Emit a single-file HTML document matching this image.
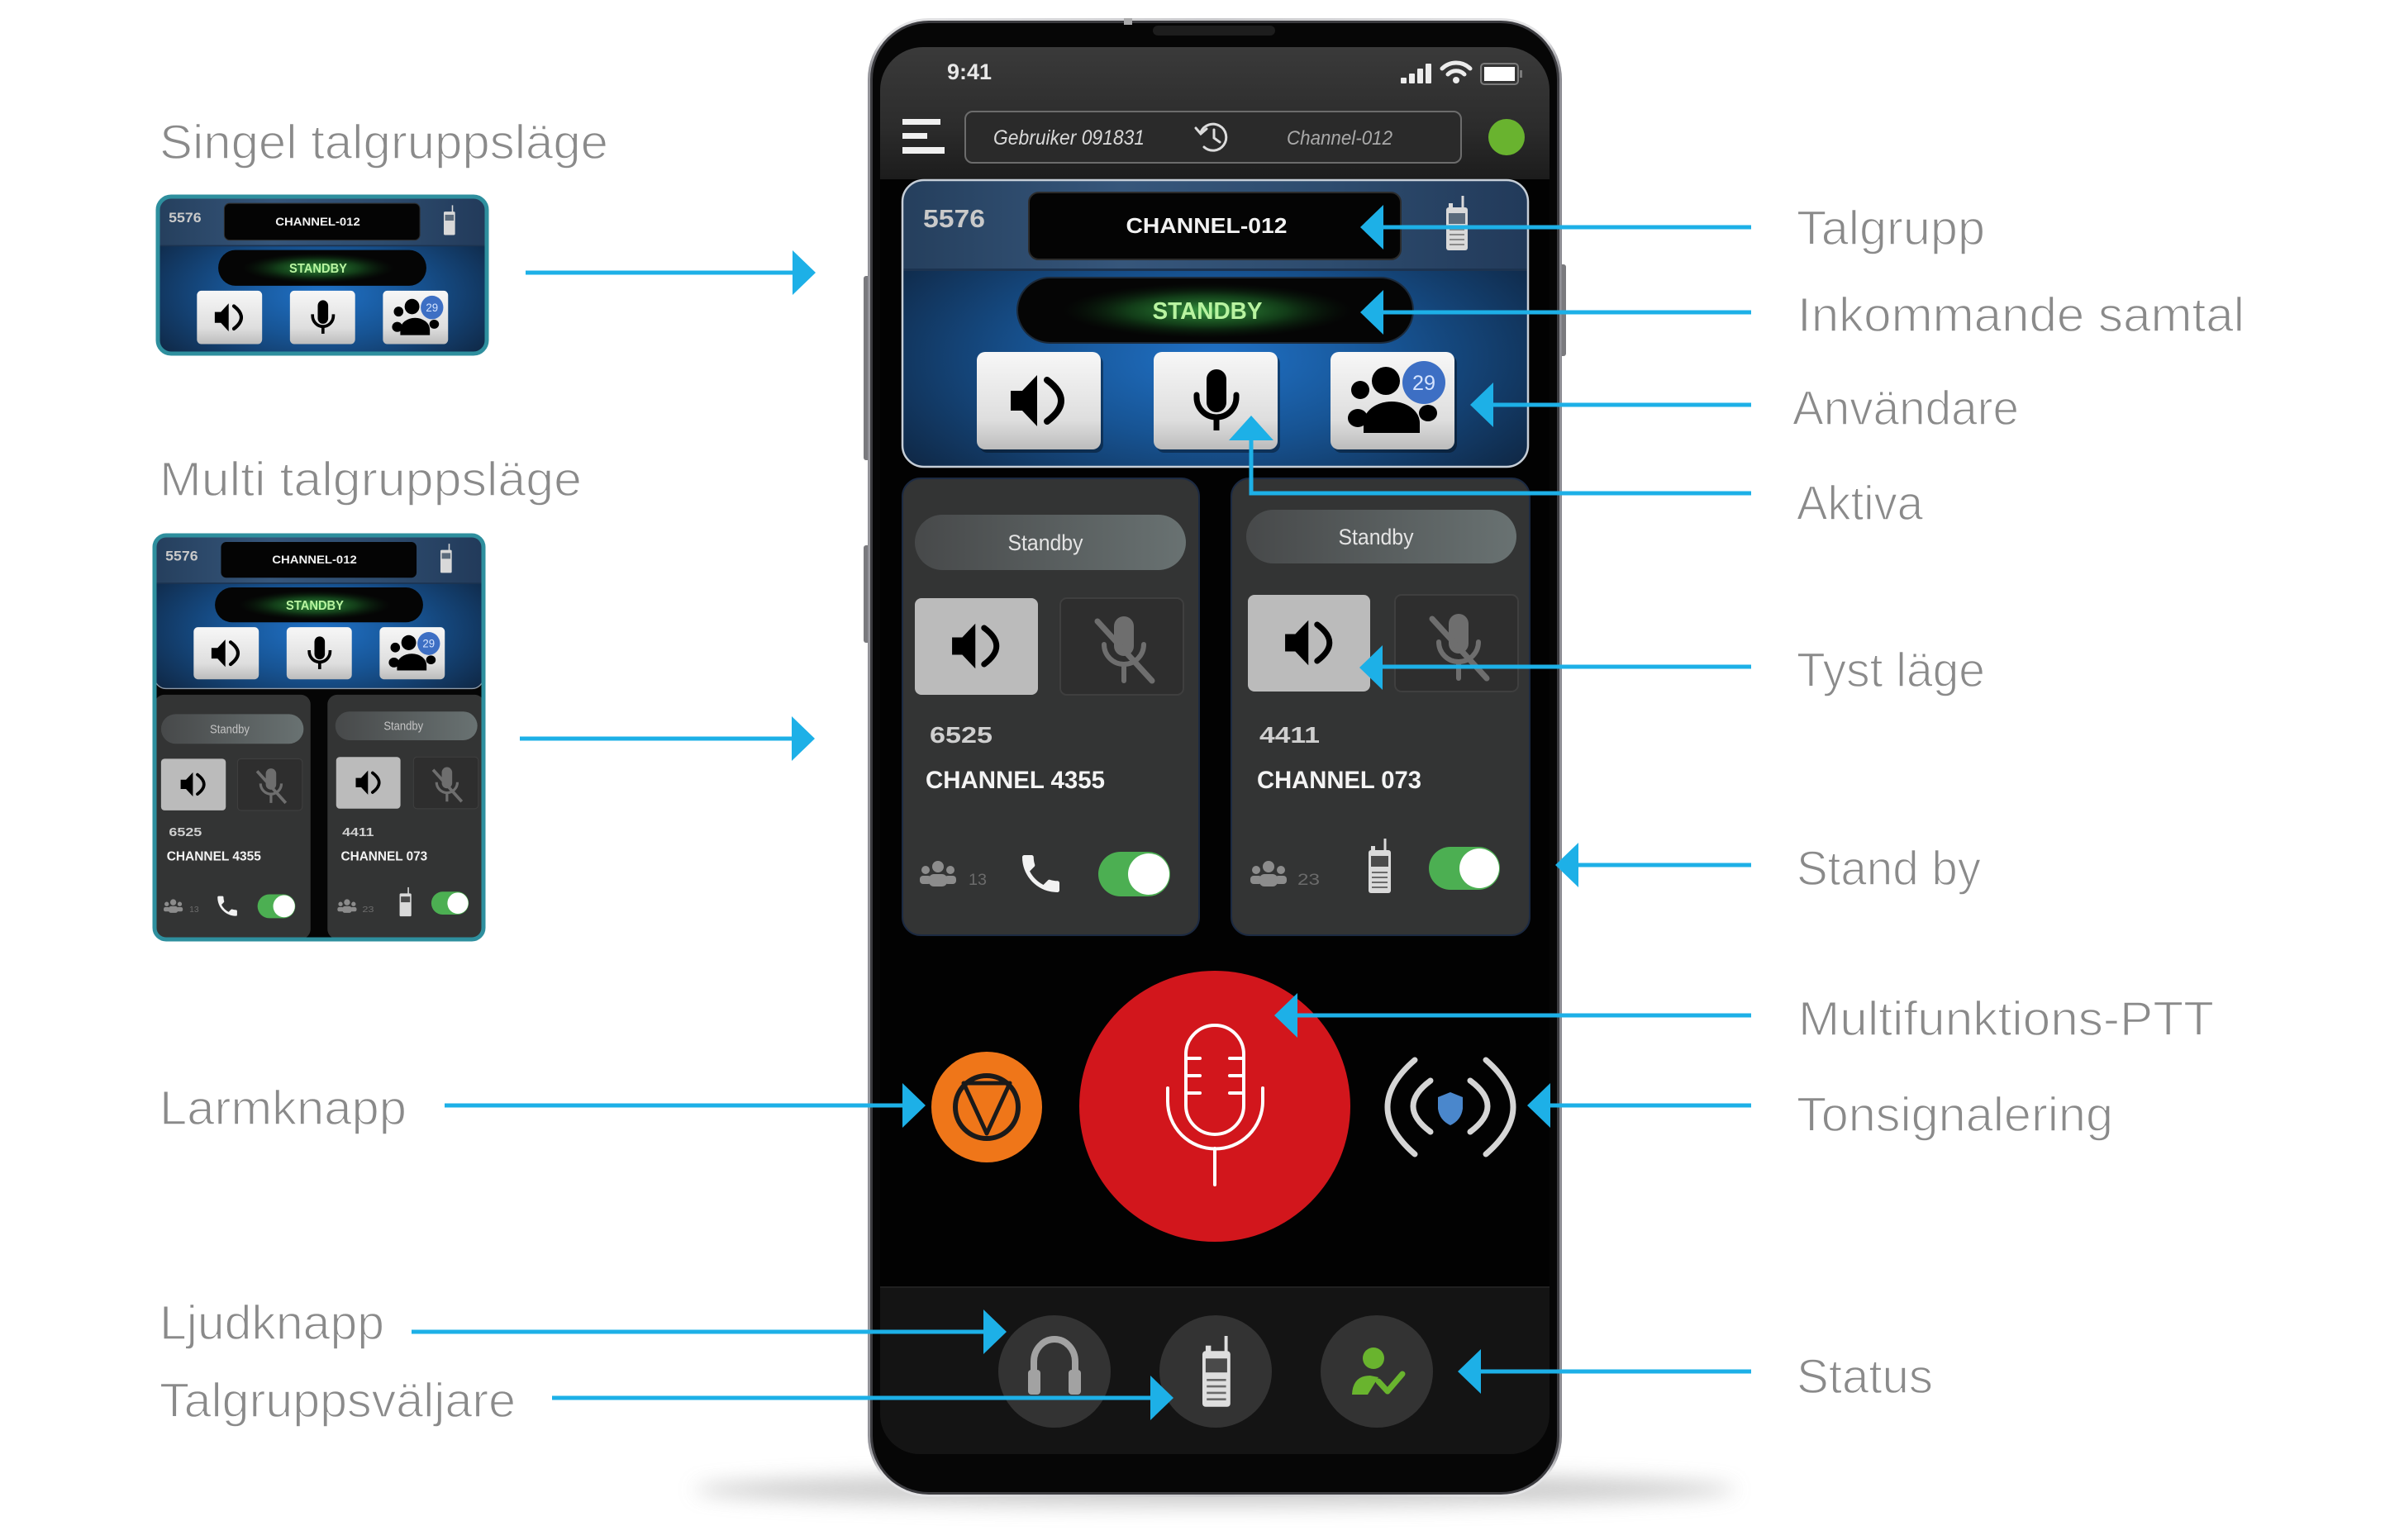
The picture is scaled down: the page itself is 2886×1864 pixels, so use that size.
<!DOCTYPE html>
<html><head><meta charset="utf-8">
<style>
html,body{margin:0;padding:0;background:#fff;}
svg{display:block;}
text{font-family:"Liberation Sans",Arial,sans-serif;}
</style></head><body>
<svg width="2886" height="1864" viewBox="0 0 2886 1864" xmlns="http://www.w3.org/2000/svg">
<defs>
 <linearGradient id="silver" x1="0" y1="0" x2="1" y2="0">
  <stop offset="0" stop-color="#8e8e94"/><stop offset="0.02" stop-color="#e4e4e6"/><stop offset="0.5" stop-color="#c9c9cc"/><stop offset="0.98" stop-color="#e4e4e6"/><stop offset="1" stop-color="#85858b"/>
 </linearGradient>
 <linearGradient id="hdr" x1="0" y1="0" x2="0" y2="1">
  <stop offset="0" stop-color="#3a3a3a"/><stop offset="0.6" stop-color="#2c2c2c"/><stop offset="1" stop-color="#1c1c1c"/>
 </linearGradient>
 <radialGradient id="panelBlue" cx="0.5" cy="0.62" r="0.62">
  <stop offset="0" stop-color="#2071c6"/><stop offset="0.45" stop-color="#175494"/><stop offset="1" stop-color="#0f2744"/>
 </radialGradient>
 <linearGradient id="band" x1="0" y1="0" x2="1" y2="0">
  <stop offset="0" stop-color="#253f5d"/><stop offset="0.35" stop-color="#36567b"/><stop offset="0.7" stop-color="#2d4b6d"/><stop offset="1" stop-color="#223a5a"/>
 </linearGradient>
 <linearGradient id="btn" x1="0" y1="0" x2="0" y2="1">
  <stop offset="0" stop-color="#f7f7f7"/><stop offset="0.7" stop-color="#dedede"/><stop offset="1" stop-color="#bcbcbc"/>
 </linearGradient>
 <radialGradient id="glow" cx="0.5" cy="0.5" r="0.5">
  <stop offset="0" stop-color="#3aa345" stop-opacity="0.95"/><stop offset="0.55" stop-color="#1d6a28" stop-opacity="0.55"/><stop offset="1" stop-color="#0b2a10" stop-opacity="0"/>
 </radialGradient>
 <linearGradient id="pill" x1="0" y1="0" x2="1" y2="0">
  <stop offset="0" stop-color="#47494a"/><stop offset="1" stop-color="#697272"/>
 </linearGradient>
 <filter id="blur" x="-20%" y="-200%" width="140%" height="500%"><feGaussianBlur stdDeviation="12"/></filter>
 <clipPath id="panelClip"><rect x="1092" y="218" width="757" height="347" rx="26"/></clipPath>
</defs>

<rect width="2886" height="1864" fill="#fff"/>

<!-- ================= LEFT LABELS ================= -->
<g font-size="58" fill="#8a8a8a" stroke="#fff" stroke-width="1.4">
 <text x="193" y="192" textLength="543" lengthAdjust="spacingAndGlyphs">Singel talgruppsläge</text>
 <text x="193" y="600" textLength="511" lengthAdjust="spacingAndGlyphs">Multi talgruppsläge</text>
 <text x="193" y="1361" textLength="299" lengthAdjust="spacingAndGlyphs">Larmknapp</text>
 <text x="193" y="1621" textLength="272" lengthAdjust="spacingAndGlyphs">Ljudknapp</text>
 <text x="193" y="1715" textLength="431" lengthAdjust="spacingAndGlyphs">Talgruppsväljare</text>
</g>
<!-- ================= RIGHT LABELS ================= -->
<g font-size="58" fill="#8a8a8a" stroke="#fff" stroke-width="1.4">
 <text x="2174" y="296" textLength="228" lengthAdjust="spacingAndGlyphs">Talgrupp</text>
 <text x="2175" y="401" textLength="541" lengthAdjust="spacingAndGlyphs">Inkommande samtal</text>
 <text x="2169" y="514" textLength="274" lengthAdjust="spacingAndGlyphs">Användare</text>
 <text x="2174" y="629" textLength="153" lengthAdjust="spacingAndGlyphs">Aktiva</text>
 <text x="2174" y="831" textLength="228" lengthAdjust="spacingAndGlyphs">Tyst läge</text>
 <text x="2174" y="1071" textLength="223" lengthAdjust="spacingAndGlyphs">Stand by</text>
 <text x="2176" y="1253" textLength="503" lengthAdjust="spacingAndGlyphs">Multifunktions-PTT</text>
 <text x="2174" y="1369" textLength="383" lengthAdjust="spacingAndGlyphs">Tonsignalering</text>
 <text x="2174" y="1686" textLength="165" lengthAdjust="spacingAndGlyphs">Status</text>
</g>

<!-- ================= PHONE ================= -->
<ellipse cx="1470" cy="1803" rx="630" ry="20" fill="#b8b8b8" opacity="0.7" filter="url(#blur)"/>
<rect x="1045" y="334" width="8" height="223" rx="3" fill="#7a7a7e"/>
<rect x="1045" y="660" width="8" height="118" rx="3" fill="#7a7a7e"/>
<rect x="1887" y="320" width="8" height="111" rx="3" fill="#7a7a7e"/>
<rect x="1050" y="22" width="840" height="1790" rx="74" fill="url(#silver)"/>
<rect x="1053" y="25" width="834" height="1784" rx="71" fill="#3c3c40"/>
<rect x="1056" y="28" width="828" height="1778" rx="68" fill="#060606"/>
<rect x="1395" y="31" width="148" height="12" rx="6" fill="#1d1d1d"/>
<rect x="1360" y="22" width="10" height="8" fill="#a9a9ab"/>
<rect x="1065" y="57" width="810" height="1703" rx="52" fill="#020202"/>
<path d="M1065,217 V109 a52,52 0 0 1 52,-52 H1823 a52,52 0 0 1 52,52 V217 Z" fill="url(#hdr)"/>
<text x="1146" y="96" font-size="27" font-weight="bold" fill="#e8e8e8" textLength="54" lengthAdjust="spacingAndGlyphs">9:41</text>
<g fill="#ececec">
 <rect x="1695" y="94" width="7" height="7" rx="1"/>
 <rect x="1705" y="89" width="7" height="12" rx="1"/>
 <rect x="1715" y="83" width="7" height="18" rx="1"/>
 <rect x="1725" y="77" width="7" height="24" rx="1"/>
 <circle cx="1762" cy="97" r="4"/>
</g>
<g fill="none" stroke="#ececec" stroke-width="5" stroke-linecap="round">
 <path d="M1745,83 A24,24 0 0 1 1779,83"/>
 <path d="M1752,90 A14,14 0 0 1 1772,90"/>
</g>
<rect x="1792" y="77" width="45" height="25" rx="4" fill="none" stroke="#7a7a7a" stroke-width="2"/>
<rect x="1796" y="81" width="37" height="17" fill="#fff"/>
<rect x="1839" y="85" width="3" height="9" fill="#7a7a7a"/>
<rect x="1092" y="144" width="46" height="7" fill="#f0f0f0"/>
<rect x="1092" y="161" width="30" height="7" fill="#f0f0f0"/>
<rect x="1092" y="178" width="51" height="8" fill="#f0f0f0"/>
<rect x="1168" y="135" width="600" height="62" rx="9" fill="#2a2a2a" stroke="#6c6c6c" stroke-width="2"/>
<text x="1202" y="175" font-size="25" font-style="italic" fill="#d8d8d8" textLength="183" lengthAdjust="spacingAndGlyphs">Gebruiker 091831</text>
<g fill="none" stroke="#dcdcdc" stroke-width="3" stroke-linecap="round">
 <path d="M1453,160 A16,16 0 1 1 1457,178"/>
 <path d="M1447,155 L1453,162 L1460,156"/>
 <path d="M1469,157 V167 L1476,172"/>
</g>
<text x="1557" y="175" font-size="24" font-style="italic" fill="#a9a9a9" textLength="128" lengthAdjust="spacingAndGlyphs">Channel-012</text>
<circle cx="1823" cy="166" r="22" fill="#69b32f"/>

<!-- ===== PANEL (phone) ===== -->
<g>
 <g clip-path="url(#panelClip)">
  <rect x="1092" y="218" width="757" height="347" fill="url(#panelBlue)"/>
  <rect x="1092" y="218" width="757" height="108" fill="url(#band)"/>
  <rect x="1092" y="325" width="757" height="3" fill="#1c3350"/>
 </g>
 <rect x="1092" y="218" width="757" height="347" rx="26" fill="none" stroke="#c6ced7" stroke-width="2.5"/>
 <text x="1117" y="275" font-size="31" font-weight="bold" fill="#c9c9c9" textLength="75" lengthAdjust="spacingAndGlyphs">5576</text>
 <rect x="1245" y="233" width="450" height="81" rx="12" fill="#040404" stroke="#2c2c2c" stroke-width="2"/>
 <text x="1460" y="282" font-size="26" font-weight="bold" fill="#f2f2f2" text-anchor="middle" textLength="195" lengthAdjust="spacingAndGlyphs">CHANNEL-012</text>
 <g transform="translate(1750,237)">
  <line x1="20" y1="0" x2="20" y2="16" stroke="#d9d9d9" stroke-width="3"/>
  <rect x="3" y="9" width="5" height="6" fill="#d9d9d9"/>
  <rect x="0" y="14" width="26" height="52" rx="3" fill="#d9d9d9"/>
  <rect x="3" y="21" width="20" height="13" fill="#5b6b7c"/>
  <g stroke="#8a8a8a" stroke-width="2"><line x1="4" y1="41" x2="22" y2="41"/><line x1="4" y1="47" x2="22" y2="47"/><line x1="4" y1="53" x2="22" y2="53"/><line x1="4" y1="59" x2="22" y2="59"/></g>
 </g>
 <rect x="1231" y="336" width="479" height="79" rx="39.5" fill="#050505" stroke="#1c2a3a" stroke-width="2"/>
 <ellipse cx="1461" cy="376" rx="175" ry="33" fill="url(#glow)"/>
 <text x="1461" y="386" font-size="29" font-weight="bold" fill="#b8f3a0" text-anchor="middle" textLength="133" lengthAdjust="spacingAndGlyphs">STANDBY</text>
 <rect x="1185" y="430" width="150" height="118" rx="10" fill="#000" opacity="0.35"/>
 <rect x="1399" y="430" width="150" height="118" rx="10" fill="#000" opacity="0.35"/>
 <rect x="1613" y="430" width="150" height="118" rx="10" fill="#000" opacity="0.35"/>
 <rect x="1182" y="426" width="150" height="118" rx="10" fill="url(#btn)"/>
 <rect x="1396" y="426" width="150" height="118" rx="10" fill="url(#btn)"/>
 <rect x="1610" y="426" width="150" height="118" rx="10" fill="url(#btn)"/>
 <g transform="translate(1257,485)">
  <polygon points="-34,-12 -20,-12 -2,-31 -2,31 -20,12 -34,12" fill="#000"/>
  <path d="M10,-25 Q44,0 10,25" fill="none" stroke="#000" stroke-width="8" stroke-linecap="round"/>
 </g>
 <rect x="1460" y="447" width="24" height="52" rx="12" fill="#000"/>
 <path d="M1448,478 v3 a24,24 0 0 0 48,0 v-3" fill="none" stroke="#000" stroke-width="7" stroke-linecap="round"/>
 <line x1="1472" y1="505" x2="1472" y2="521" stroke="#000" stroke-width="7"/>
 <circle cx="1677" cy="461" r="17" fill="#000"/>
 <path d="M1650,524 v-12 a34,26 0 0 1 68,0 v12 z" fill="#000"/>
 <circle cx="1646" cy="472" r="11" fill="#000"/>
 <ellipse cx="1643" cy="506" rx="12" ry="11" fill="#000"/>
 <ellipse cx="1728" cy="500" rx="11" ry="10" fill="#000"/>
 <circle cx="1723" cy="463" r="26" fill="#3d6fc4"/>
 <text x="1723" y="472" font-size="25" fill="#d6e4ff" text-anchor="middle" textLength="28" lengthAdjust="spacingAndGlyphs">29</text>
</g>

<!-- ===== CARDS (phone) ===== -->
<g>
 <rect x="1092" y="579" width="359" height="553" rx="22" fill="#333434" stroke="#1c2a42" stroke-width="2"/>
 <rect x="1490" y="579" width="361" height="553" rx="22" fill="#333434" stroke="#1c2a42" stroke-width="2"/>
 <rect x="1107" y="623" width="328" height="67" rx="33.5" fill="url(#pill)"/>
 <text x="1265" y="666" font-size="27" fill="#e4e4e4" text-anchor="middle" textLength="91" lengthAdjust="spacingAndGlyphs">Standby</text>
 <rect x="1508" y="617" width="327" height="65" rx="32.5" fill="url(#pill)"/>
 <text x="1665" y="659" font-size="27" fill="#e4e4e4" text-anchor="middle" textLength="91" lengthAdjust="spacingAndGlyphs">Standby</text>
 <rect x="1107" y="724" width="149" height="117" rx="8" fill="#bbbbbb"/>
 <rect x="1283" y="724" width="149" height="117" rx="8" fill="#2e2e2e" stroke="#3f3f3f" stroke-width="2"/>
 <rect x="1510" y="720" width="148" height="117" rx="8" fill="#bbbbbb"/>
 <rect x="1688" y="720" width="149" height="117" rx="8" fill="#2e2e2e" stroke="#3f3f3f" stroke-width="2"/>
 <g transform="translate(1182,782) scale(0.88)">
  <polygon points="-34,-12 -20,-12 -2,-31 -2,31 -20,12 -34,12" fill="#000"/>
  <path d="M10,-25 Q44,0 10,25" fill="none" stroke="#000" stroke-width="8" stroke-linecap="round"/>
 </g>
 <g transform="translate(1585,778) scale(0.88)">
  <polygon points="-34,-12 -20,-12 -2,-31 -2,31 -20,12 -34,12" fill="#000"/>
  <path d="M10,-25 Q44,0 10,25" fill="none" stroke="#000" stroke-width="8" stroke-linecap="round"/>
 </g>
 <g transform="translate(1360,786)" stroke="#6e6e6e" fill="none" stroke-width="6" stroke-linecap="round">
  <rect x="-12" y="-40" width="24" height="48" rx="12" fill="#6e6e6e" stroke="none"/>
  <path d="M-24,-6 a24,24 0 0 0 48,0"/>
  <line x1="0" y1="18" x2="0" y2="38"/>
  <line x1="-32" y1="-34" x2="34" y2="38" stroke-width="7"/>
 </g>
 <g transform="translate(1765,783)" stroke="#6e6e6e" fill="none" stroke-width="6" stroke-linecap="round">
  <rect x="-12" y="-40" width="24" height="48" rx="12" fill="#6e6e6e" stroke="none"/>
  <path d="M-24,-6 a24,24 0 0 0 48,0"/>
  <line x1="0" y1="18" x2="0" y2="38"/>
  <line x1="-32" y1="-34" x2="34" y2="38" stroke-width="7"/>
 </g>
 <text x="1125" y="899" font-size="28" font-weight="bold" fill="#cfcfcf" textLength="76" lengthAdjust="spacingAndGlyphs">6525</text>
 <text x="1120" y="954" font-size="30" font-weight="bold" fill="#f4f4f4" textLength="217" lengthAdjust="spacingAndGlyphs">CHANNEL 4355</text>
 <text x="1524" y="899" font-size="28" font-weight="bold" fill="#cfcfcf" textLength="73" lengthAdjust="spacingAndGlyphs">4411</text>
 <text x="1521" y="954" font-size="30" font-weight="bold" fill="#f4f4f4" textLength="199" lengthAdjust="spacingAndGlyphs">CHANNEL 073</text>
 <g transform="translate(1135,1057)" fill="#8c8c8c">
  <circle cx="0" cy="-8" r="7"/><circle cx="-15" cy="-4" r="5"/><circle cx="15" cy="-4" r="5"/>
  <rect x="-11" y="1" width="22" height="15" rx="6"/><rect x="-22" y="3" width="14" height="10" rx="4"/><rect x="8" y="3" width="14" height="10" rx="4"/>
 </g>
 <text x="1172" y="1071" font-size="19" fill="#6b6b6b" textLength="22" lengthAdjust="spacingAndGlyphs">13</text>
 <g transform="translate(1229.5,1027.5) scale(2.5)" fill="#f2f2f2">
  <path d="M6.62 10.79c1.44 2.83 3.76 5.14 6.59 6.59l2.2-2.2c.27-.27.67-.36 1.02-.24 1.12.37 2.33.57 3.57.57.55 0 1 .45 1 1V20c0 .55-.45 1-1 1-9.39 0-17-7.61-17-17 0-.55.45-1 1-1h3.5c.55 0 1 .45 1 1 0 1.25.2 2.45.57 3.57.11.35.03.74-.25 1.02l-2.2 2.2z"/>
 </g>
 <rect x="1329" y="1031" width="87" height="54" rx="27" fill="#4caf52"/>
 <circle cx="1390" cy="1058" r="25" fill="#fff"/>
 <g transform="translate(1535,1057)" fill="#8c8c8c">
  <circle cx="0" cy="-8" r="7"/><circle cx="-15" cy="-4" r="5"/><circle cx="15" cy="-4" r="5"/>
  <rect x="-11" y="1" width="22" height="15" rx="6"/><rect x="-22" y="3" width="14" height="10" rx="4"/><rect x="8" y="3" width="14" height="10" rx="4"/>
 </g>
 <text x="1570" y="1071" font-size="19" fill="#6b6b6b" textLength="27" lengthAdjust="spacingAndGlyphs">23</text>
 <g transform="translate(1656,1015)">
  <line x1="20" y1="0" x2="20" y2="16" stroke="#d9d9d9" stroke-width="3"/>
  <rect x="3" y="9" width="5" height="6" fill="#d9d9d9"/>
  <rect x="0" y="14" width="27" height="52" rx="3" fill="#d9d9d9"/>
  <rect x="3" y="21" width="21" height="13" fill="#4a4a4a"/>
  <g stroke="#6a6a6a" stroke-width="2"><line x1="4" y1="41" x2="23" y2="41"/><line x1="4" y1="47" x2="23" y2="47"/><line x1="4" y1="53" x2="23" y2="53"/><line x1="4" y1="59" x2="23" y2="59"/></g>
 </g>
 <rect x="1729" y="1025" width="86" height="52" rx="26" fill="#4caf52"/>
 <circle cx="1790" cy="1051" r="24" fill="#fff"/>
</g>

<!-- PTT row -->
<circle cx="1194" cy="1340" r="67" fill="#ef7619"/>
<circle cx="1194" cy="1340" r="38" fill="none" stroke="#1a1a1a" stroke-width="6"/>
<polygon points="1166,1311 1222,1311 1194,1372" fill="none" stroke="#1a1a1a" stroke-width="5" stroke-linejoin="round"/>
<circle cx="1470" cy="1339" r="164" fill="#d2161c"/>
<g fill="none" stroke="#fff" stroke-width="4" stroke-linecap="round">
 <rect x="1435" y="1241" width="70" height="132" rx="35"/>
 <line x1="1435" y1="1281" x2="1452" y2="1281"/><line x1="1488" y1="1281" x2="1505" y2="1281"/>
 <line x1="1435" y1="1302" x2="1452" y2="1302"/><line x1="1488" y1="1302" x2="1505" y2="1302"/>
 <line x1="1435" y1="1323" x2="1452" y2="1323"/><line x1="1488" y1="1323" x2="1505" y2="1323"/>
 <path d="M1413,1317 v16 a57,57 0 0 0 115,0 v-16"/>
 <line x1="1470" y1="1390" x2="1470" y2="1434"/>
</g>
<g fill="none" stroke="#d5d5d5" stroke-width="7" stroke-linecap="round">
 <path d="M1712,1283 Q1646,1340 1712,1397"/>
 <path d="M1731,1308 Q1689,1339 1731,1370"/>
 <path d="M1798,1283 Q1864,1340 1798,1397"/>
 <path d="M1779,1308 Q1821,1339 1779,1370"/>
</g>
<path d="M1755,1322 L1770,1328 V1342 Q1768,1356 1755,1362 Q1742,1356 1740,1342 V1328 Z" fill="#4a87cc"/>

<!-- bottom bar -->
<path d="M1065,1557 H1875 V1712 a48,48 0 0 1 -48,48 H1113 a48,48 0 0 1 -48,-48 Z" fill="#141414"/>
<rect x="1065" y="1557" width="810" height="2" fill="#202020"/>
<circle cx="1276" cy="1660" r="68" fill="#333"/>
<circle cx="1471" cy="1660" r="68" fill="#333"/>
<circle cx="1666" cy="1660" r="68" fill="#333"/>
<path d="M1251,1676 V1648 a25,27 0 0 1 50,0 V1676" fill="none" stroke="#a2a2a2" stroke-width="8"/>
<rect x="1244" y="1658" width="15" height="30" rx="4" fill="#a2a2a2"/>
<rect x="1293" y="1658" width="15" height="30" rx="4" fill="#a2a2a2"/>
<g transform="translate(1455,1617) scale(1.3)">
  <line x1="22" y1="0" x2="22" y2="16" stroke="#dedede" stroke-width="3"/>
  <rect x="3" y="9" width="5" height="6" fill="#dedede"/>
  <rect x="0" y="14" width="26" height="52" rx="3" fill="#dedede"/>
  <rect x="3" y="21" width="20" height="13" fill="#4a4a4a"/>
  <g stroke="#6a6a6a" stroke-width="2"><line x1="4" y1="41" x2="22" y2="41"/><line x1="4" y1="47" x2="22" y2="47"/><line x1="4" y1="53" x2="22" y2="53"/><line x1="4" y1="59" x2="22" y2="59"/></g>
</g>
<circle cx="1662" cy="1644" r="13" fill="#69b42e"/>
<path d="M1636,1688 Q1637,1665 1658,1665 L1668,1667 L1655,1688 Z" fill="#69b42e"/>
<polyline points="1668,1672 1679,1684 1697,1663" fill="none" stroke="#69b42e" stroke-width="7" stroke-linecap="round" stroke-linejoin="round"/>

<!-- ================= THUMBNAIL 1 (single) ================= -->
<g transform="translate(191,238) scale(0.5258,0.5476) translate(-1092,-218)">
 <g clip-path="url(#panelClip)">
  <rect x="1092" y="218" width="757" height="347" fill="url(#panelBlue)"/>
  <rect x="1092" y="218" width="757" height="108" fill="url(#band)"/>
  <rect x="1092" y="325" width="757" height="3" fill="#1c3350"/>
 </g>
 <text x="1117" y="275" font-size="31" font-weight="bold" fill="#c9c9c9" textLength="75" lengthAdjust="spacingAndGlyphs">5576</text>
 <rect x="1245" y="233" width="450" height="81" rx="12" fill="#040404" stroke="#2c2c2c" stroke-width="2"/>
 <text x="1460" y="282" font-size="26" font-weight="bold" fill="#f2f2f2" text-anchor="middle" textLength="195" lengthAdjust="spacingAndGlyphs">CHANNEL-012</text>
 <g transform="translate(1750,237)">
  <line x1="20" y1="0" x2="20" y2="16" stroke="#d9d9d9" stroke-width="3"/>
  <rect x="0" y="14" width="26" height="52" rx="3" fill="#d9d9d9"/>
  <rect x="3" y="21" width="20" height="13" fill="#5b6b7c"/>
 </g>
 <rect x="1231" y="336" width="479" height="79" rx="39.5" fill="#050505"/>
 <ellipse cx="1461" cy="376" rx="175" ry="33" fill="url(#glow)"/>
 <text x="1461" y="386" font-size="29" font-weight="bold" fill="#b8f3a0" text-anchor="middle" textLength="133" lengthAdjust="spacingAndGlyphs">STANDBY</text>
 <rect x="1182" y="426" width="150" height="118" rx="10" fill="url(#btn)"/>
 <rect x="1396" y="426" width="150" height="118" rx="10" fill="url(#btn)"/>
 <rect x="1610" y="426" width="150" height="118" rx="10" fill="url(#btn)"/>
 <g transform="translate(1257,485)">
  <polygon points="-34,-12 -20,-12 -2,-31 -2,31 -20,12 -34,12" fill="#000"/>
  <path d="M10,-25 Q44,0 10,25" fill="none" stroke="#000" stroke-width="8" stroke-linecap="round"/>
 </g>
 <rect x="1460" y="447" width="24" height="52" rx="12" fill="#000"/>
 <path d="M1448,478 v3 a24,24 0 0 0 48,0 v-3" fill="none" stroke="#000" stroke-width="7"/>
 <line x1="1472" y1="505" x2="1472" y2="521" stroke="#000" stroke-width="7"/>
 <circle cx="1677" cy="461" r="17" fill="#000"/>
 <path d="M1650,524 v-12 a34,26 0 0 1 68,0 v12 z" fill="#000"/>
 <circle cx="1646" cy="472" r="11" fill="#000"/>
 <ellipse cx="1643" cy="506" rx="12" ry="11" fill="#000"/>
 <ellipse cx="1728" cy="500" rx="11" ry="10" fill="#000"/>
 <circle cx="1723" cy="463" r="26" fill="#3d6fc4"/>
 <text x="1723" y="472" font-size="25" fill="#d6e4ff" text-anchor="middle" textLength="28" lengthAdjust="spacingAndGlyphs">29</text>
</g>
<rect x="191" y="238" width="398" height="190" rx="16" fill="none" stroke="#2e8f9e" stroke-width="5"/>

<!-- ================= THUMBNAIL 2 (multi) ================= -->
<rect x="187" y="648" width="398" height="489" rx="14" fill="#050505"/>
<g transform="translate(187,648) scale(0.5258,0.5344) translate(-1092,-218)">
 <g clip-path="url(#panelClip)">
  <rect x="1092" y="218" width="757" height="347" fill="url(#panelBlue)"/>
  <rect x="1092" y="218" width="757" height="108" fill="url(#band)"/>
  <rect x="1092" y="325" width="757" height="3" fill="#1c3350"/>
 </g>
 <rect x="1092" y="218" width="757" height="347" rx="26" fill="none" stroke="#8c98a6" stroke-width="2.5"/>
 <text x="1117" y="275" font-size="31" font-weight="bold" fill="#c9c9c9" textLength="75" lengthAdjust="spacingAndGlyphs">5576</text>
 <rect x="1245" y="233" width="450" height="81" rx="12" fill="#040404"/>
 <text x="1460" y="282" font-size="26" font-weight="bold" fill="#f2f2f2" text-anchor="middle" textLength="195" lengthAdjust="spacingAndGlyphs">CHANNEL-012</text>
 <g transform="translate(1750,237)">
  <line x1="20" y1="0" x2="20" y2="16" stroke="#d9d9d9" stroke-width="3"/>
  <rect x="0" y="14" width="26" height="52" rx="3" fill="#d9d9d9"/>
  <rect x="3" y="21" width="20" height="13" fill="#5b6b7c"/>
 </g>
 <rect x="1231" y="336" width="479" height="79" rx="39.5" fill="#050505"/>
 <ellipse cx="1461" cy="376" rx="175" ry="33" fill="url(#glow)"/>
 <text x="1461" y="386" font-size="29" font-weight="bold" fill="#b8f3a0" text-anchor="middle" textLength="133" lengthAdjust="spacingAndGlyphs">STANDBY</text>
 <rect x="1182" y="426" width="150" height="118" rx="10" fill="url(#btn)"/>
 <rect x="1396" y="426" width="150" height="118" rx="10" fill="url(#btn)"/>
 <rect x="1610" y="426" width="150" height="118" rx="10" fill="url(#btn)"/>
 <g transform="translate(1257,485)">
  <polygon points="-34,-12 -20,-12 -2,-31 -2,31 -20,12 -34,12" fill="#000"/>
  <path d="M10,-25 Q44,0 10,25" fill="none" stroke="#000" stroke-width="8" stroke-linecap="round"/>
 </g>
 <rect x="1460" y="447" width="24" height="52" rx="12" fill="#000"/>
 <path d="M1448,478 v3 a24,24 0 0 0 48,0 v-3" fill="none" stroke="#000" stroke-width="7"/>
 <line x1="1472" y1="505" x2="1472" y2="521" stroke="#000" stroke-width="7"/>
 <circle cx="1677" cy="461" r="17" fill="#000"/>
 <path d="M1650,524 v-12 a34,26 0 0 1 68,0 v12 z" fill="#000"/>
 <circle cx="1646" cy="472" r="11" fill="#000"/>
 <ellipse cx="1643" cy="506" rx="12" ry="11" fill="#000"/>
 <ellipse cx="1728" cy="500" rx="11" ry="10" fill="#000"/>
 <circle cx="1723" cy="463" r="26" fill="#3d6fc4"/>
 <text x="1723" y="472" font-size="25" fill="#d6e4ff" text-anchor="middle" textLength="28" lengthAdjust="spacingAndGlyphs">29</text>

 <rect x="1092" y="579" width="359" height="553" rx="22" fill="#333434"/>
 <rect x="1490" y="579" width="361" height="553" rx="22" fill="#333434"/>
 <rect x="1107" y="623" width="328" height="67" rx="33.5" fill="url(#pill)"/>
 <text x="1265" y="666" font-size="27" fill="#c4c4c4" text-anchor="middle" textLength="91" lengthAdjust="spacingAndGlyphs">Standby</text>
 <rect x="1508" y="617" width="327" height="65" rx="32.5" fill="url(#pill)"/>
 <text x="1665" y="659" font-size="27" fill="#c4c4c4" text-anchor="middle" textLength="91" lengthAdjust="spacingAndGlyphs">Standby</text>
 <rect x="1107" y="724" width="149" height="117" rx="8" fill="#bbbbbb"/>
 <rect x="1283" y="724" width="149" height="117" rx="8" fill="#2e2e2e" stroke="#3f3f3f" stroke-width="2"/>
 <rect x="1510" y="720" width="148" height="117" rx="8" fill="#bbbbbb"/>
 <rect x="1688" y="720" width="149" height="117" rx="8" fill="#2e2e2e" stroke="#3f3f3f" stroke-width="2"/>
 <g transform="translate(1182,782) scale(0.88)">
  <polygon points="-34,-12 -20,-12 -2,-31 -2,31 -20,12 -34,12" fill="#000"/>
  <path d="M10,-25 Q44,0 10,25" fill="none" stroke="#000" stroke-width="8" stroke-linecap="round"/>
 </g>
 <g transform="translate(1585,778) scale(0.88)">
  <polygon points="-34,-12 -20,-12 -2,-31 -2,31 -20,12 -34,12" fill="#000"/>
  <path d="M10,-25 Q44,0 10,25" fill="none" stroke="#000" stroke-width="8" stroke-linecap="round"/>
 </g>
 <g transform="translate(1360,786)" stroke="#6e6e6e" fill="none" stroke-width="6">
  <rect x="-12" y="-40" width="24" height="48" rx="12" fill="#6e6e6e" stroke="none"/>
  <path d="M-24,-6 a24,24 0 0 0 48,0"/>
  <line x1="0" y1="18" x2="0" y2="38"/>
  <line x1="-32" y1="-34" x2="34" y2="38" stroke-width="7"/>
 </g>
 <g transform="translate(1765,783)" stroke="#6e6e6e" fill="none" stroke-width="6">
  <rect x="-12" y="-40" width="24" height="48" rx="12" fill="#6e6e6e" stroke="none"/>
  <path d="M-24,-6 a24,24 0 0 0 48,0"/>
  <line x1="0" y1="18" x2="0" y2="38"/>
  <line x1="-32" y1="-34" x2="34" y2="38" stroke-width="7"/>
 </g>
 <text x="1125" y="899" font-size="28" font-weight="bold" fill="#cfcfcf" textLength="76" lengthAdjust="spacingAndGlyphs">6525</text>
 <text x="1120" y="954" font-size="30" font-weight="bold" fill="#f4f4f4" textLength="217" lengthAdjust="spacingAndGlyphs">CHANNEL 4355</text>
 <text x="1524" y="899" font-size="28" font-weight="bold" fill="#cfcfcf" textLength="73" lengthAdjust="spacingAndGlyphs">4411</text>
 <text x="1521" y="954" font-size="30" font-weight="bold" fill="#f4f4f4" textLength="199" lengthAdjust="spacingAndGlyphs">CHANNEL 073</text>
 <g transform="translate(1135,1057)" fill="#8c8c8c">
  <circle cx="0" cy="-8" r="7"/><circle cx="-15" cy="-4" r="5"/><circle cx="15" cy="-4" r="5"/>
  <rect x="-11" y="1" width="22" height="15" rx="6"/><rect x="-22" y="3" width="14" height="10" rx="4"/><rect x="8" y="3" width="14" height="10" rx="4"/>
 </g>
 <text x="1172" y="1071" font-size="19" fill="#6b6b6b" textLength="22" lengthAdjust="spacingAndGlyphs">13</text>
 <g transform="translate(1229.5,1027.5) scale(2.5)" fill="#f2f2f2">
  <path d="M6.62 10.79c1.44 2.83 3.76 5.14 6.59 6.59l2.2-2.2c.27-.27.67-.36 1.02-.24 1.12.37 2.33.57 3.57.57.55 0 1 .45 1 1V20c0 .55-.45 1-1 1-9.39 0-17-7.610-17-17 0-.55.45-1 1-1h3.5c.55 0 1 .45 1 1 0 1.25.2 2.45.57 3.57.11.35.03.74-.25 1.02l-2.2 2.2z"/>
 </g>
 <rect x="1329" y="1031" width="87" height="54" rx="27" fill="#4caf52"/>
 <circle cx="1390" cy="1058" r="25" fill="#fff"/>
 <g transform="translate(1535,1057)" fill="#8c8c8c">
  <circle cx="0" cy="-8" r="7"/><circle cx="-15" cy="-4" r="5"/><circle cx="15" cy="-4" r="5"/>
  <rect x="-11" y="1" width="22" height="15" rx="6"/><rect x="-22" y="3" width="14" height="10" rx="4"/><rect x="8" y="3" width="14" height="10" rx="4"/>
 </g>
 <text x="1570" y="1071" font-size="19" fill="#6b6b6b" textLength="27" lengthAdjust="spacingAndGlyphs">23</text>
 <g transform="translate(1656,1015)">
  <line x1="20" y1="0" x2="20" y2="16" stroke="#d9d9d9" stroke-width="3"/>
  <rect x="0" y="14" width="27" height="52" rx="3" fill="#d9d9d9"/>
  <rect x="3" y="21" width="21" height="13" fill="#4a4a4a"/>
 </g>
 <rect x="1729" y="1025" width="86" height="52" rx="26" fill="#4caf52"/>
 <circle cx="1790" cy="1051" r="24" fill="#fff"/>
</g>
<rect x="187" y="648" width="398" height="489" rx="14" fill="none" stroke="#2e8f9e" stroke-width="5"/>

<!-- ================= CONNECTORS ================= -->
<g stroke="#1db0e7" stroke-width="5" fill="none">
 <line x1="636" y1="330" x2="965" y2="330"/>
 <line x1="629" y1="894" x2="964" y2="894"/>
 <line x1="1668" y1="275" x2="2119" y2="275"/>
 <line x1="1668" y1="378" x2="2119" y2="378"/>
 <line x1="1800" y1="490" x2="2119" y2="490"/>
 <polyline points="1514,528 1514,597 2119,597"/>
 <line x1="1667" y1="807" x2="2119" y2="807"/>
 <line x1="1904" y1="1047" x2="2119" y2="1047"/>
 <line x1="1564" y1="1229" x2="2119" y2="1229"/>
 <line x1="1870" y1="1338" x2="2119" y2="1338"/>
 <line x1="1786" y1="1660" x2="2119" y2="1660"/>
 <line x1="538" y1="1338" x2="1098" y2="1338"/>
 <line x1="498" y1="1612" x2="1196" y2="1612"/>
 <line x1="668" y1="1692" x2="1398" y2="1692"/>
</g>
<g fill="#1db0e7">
 <polygon points="987,330 959,303 959,357"/>
 <polygon points="986,894 958,867 958,921"/>
 <polygon points="1646,275 1674,248 1674,302"/>
 <polygon points="1646,378 1674,351 1674,405"/>
 <polygon points="1779,490 1807,463 1807,517"/>
 <polygon points="1514,503 1487,533 1541,533"/>
 <polygon points="1645,808 1673,781 1673,835"/>
 <polygon points="1882,1047 1910,1020 1910,1074"/>
 <polygon points="1542,1229 1570,1202 1570,1256"/>
 <polygon points="1848,1338 1876,1311 1876,1365"/>
 <polygon points="1764,1660 1792,1633 1792,1687"/>
 <polygon points="1120,1338 1092,1311 1092,1365"/>
 <polygon points="1218,1612 1190,1585 1190,1639"/>
 <polygon points="1420,1692 1392,1665 1392,1719"/>
</g>
</svg>
</body></html>
